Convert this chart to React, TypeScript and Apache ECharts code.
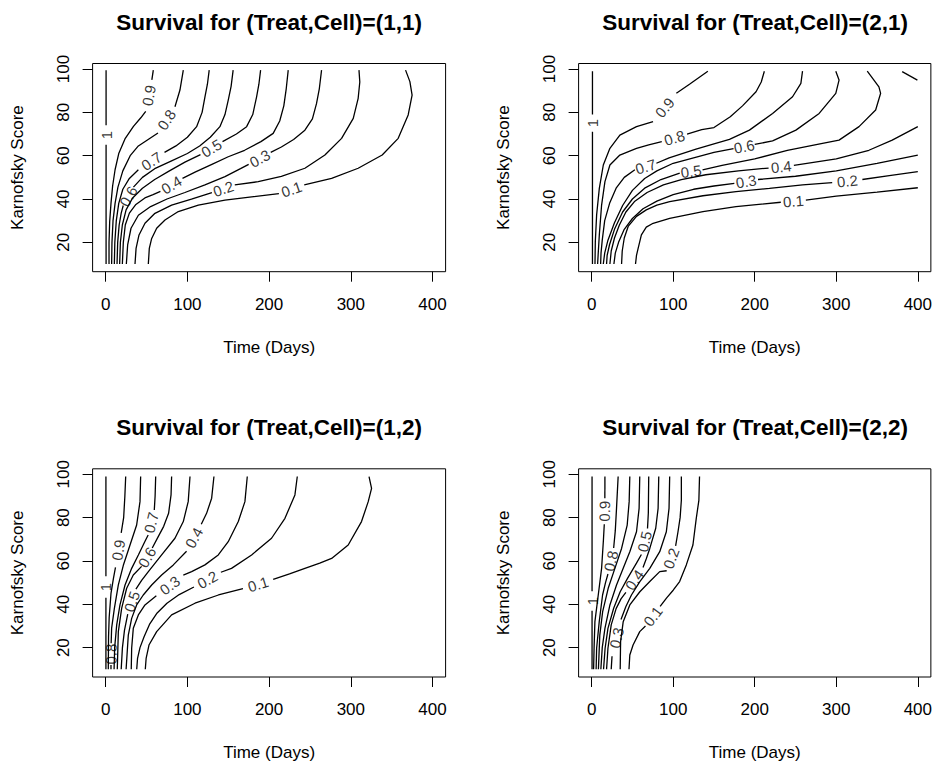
import React, { useEffect, useRef } from "react";
import * as echarts from "echarts";

type Pt = [number, number] | null;

const LEVELS = ["1", "0.9", "0.8", "0.7", "0.6", "0.5", "0.4", "0.3", "0.2", "0.1"];
const TITLES = [
  "Survival for (Treat,Cell)=(1,1)",
  "Survival for (Treat,Cell)=(2,1)",
  "Survival for (Treat,Cell)=(1,2)",
  "Survival for (Treat,Cell)=(2,2)",
];
const X_TICKS = [0, 100, 200, 300, 400];
const Y_TICKS = [20, 40, 60, 80, 100];
const X_NAME = "Time (Days)";
const Y_NAME = "Karnofsky Score";

// contour lines (time, karnofsky); null marks the gap where the level label sits
const surv11: Pt[][] = [
  [[0.5, 10], [0.5, 65], null, [0.5, 74], [0.5, 99.5]],
  [[4.1, 10], [4.1, 20], [4.9, 29.5], [6.5, 38], [8.5, 46], [11.5, 53.5], [16, 61], [24, 68], [34, 73.5], [43, 77.5], [49, 80.5], null, [56.5, 95], [58.3, 99.5]],
  [[7.3, 10], [7.7, 20], [9, 30], [11.5, 38], [15, 45.5], [21, 53], [30, 60], [40, 64.5], [52, 67.5], [64, 70.5], null, [84.8, 82.6], [90.9, 90.3], [95, 99.5]],
  [[10.6, 10], [11.2, 20], [13, 30], [16, 38], [21, 44.5], [29, 49.5], [40, 53.5], null, [72, 61.5], [86, 64.5], [100, 68.5], [111.3, 73.4], [118, 80], [121.5, 87.2], [124.5, 93], [126.7, 99.5]],
  [[13.9, 10], [14.7, 20], [16.5, 28], [19, 33.5], [21.5, 37], null, [34, 45.5], [45, 50], [60, 54], [80, 57.5], [100, 61], [115, 64.5], [128, 68.5], [139.8, 73.4], [146, 79], [150, 85.7], [153.5, 92], [156, 99.5]],
  [[17.1, 10], [18, 20], [20.4, 28], [25, 35], [33, 40.5], [45, 45], [60, 49], [78, 53], [97, 57], [116, 60.5], null, [143, 66.5], [160, 70], [172.5, 73.4], [180, 79], [184.7, 87.2], [187.5, 93], [189.6, 99.5]],
  [[20.4, 10], [21.6, 20], [24, 28], [29, 33.5], [37, 37.5], [48, 40.5], [58, 42], [67, 43.5], null, [94, 49.5], [110, 52.5], [130, 56], [150, 59.5], [170, 62.5], [190, 66.5], [205, 70.3], [213, 76], [218, 83], [221, 91], [223.4, 99.5]],
  [[25.3, 10], [26.9, 18.8], [31, 26.5], [40, 32.5], [55, 36.5], [75, 40], [97, 43], [121.5, 46.5], [146, 50.3], [165, 54], [175, 56], null, [202, 61.5], [215, 64], [230, 67.5], [243.8, 71.8], [253, 77], [258, 84], [261.5, 91], [264.2, 99.5]],
  [[35.9, 10], [37.2, 17.2], [40.8, 23.4], [48.1, 28.8], [60.3, 33.4], [80.7, 37.2], [105, 40], [130, 43], null, [158, 46.5], [186.7, 48], [215, 50.5], [243.8, 54.2], [268.3, 60.3], [288.7, 68], [303, 77.2], [309, 86.5], [311, 94], [310, 99.5]],
  [[52.2, 10], [53.4, 17.2], [56.3, 21.8], [62.4, 26.5], [72.6, 30.3], [88.9, 34.2], [113.4, 37.2], [146, 39.5], [178.6, 41], [212, 42.5], null, [243, 46.5], [276.5, 49.5], [309, 54.2], [338.4, 60.3], [358, 68], [370.2, 78.8], [375, 88], [372.3, 94.2], [367, 99.5]],
];

const surv21: Pt[][] = [
  [[1, 10], [1, 71], null, [1, 79], [1, 99]],
  [[4.1, 10], [4.5, 20.3], [6.1, 32.6], [9.4, 44.9], [14.3, 55.7], [22.4, 63.4], [34.6, 69.5], [55, 73.4], [75.3, 75.7], null, [103.9, 88.8], [120, 93], [142.5, 99]],
  [[7.3, 10], [9.4, 23.4], [12.2, 37.2], [16.3, 48], [22.4, 55.7], [34.6, 60.3], [55, 63.4], [70, 65], [86, 66.5], null, [117, 70], [135, 72], [150, 73], [170, 78], [185, 83], [201.6, 89.5], [208, 94], [211.8, 99]],
  [[11, 10], [11.5, 15], [13, 21], [16, 30], [22, 38], [30, 45], [40, 50], [53, 53.5], null, [79.4, 56.5], [95, 59], [128, 63], [150, 65.5], [169, 67.5], [193.5, 71.8], [221.9, 79.5], [246.4, 87.2], [256.6, 93.4], [258.6, 99]],
  [[14.3, 10], [16, 15], [20, 21], [28, 29], [38, 37], [50, 44], [65, 49.5], [80, 53], [100, 56.5], [125, 59], [150, 61.5], [174, 63.3], null, [200, 65.2], [221.9, 66.8], [250.5, 71.8], [279, 79.5], [299.4, 88.8], [303.4, 94.9], [299.4, 99]],
  [[18.3, 10], [19, 14], [22, 19], [28, 26], [38, 34], [50, 40], [65, 45], [85, 49], [108, 52], null, [136, 53.5], [160, 55.5], [200, 58.5], [240, 62.5], [280, 65.5], [303.4, 67.2], [327.9, 73.4], [348.3, 81.1], [354.4, 88.8], [352.3, 91.8], [338, 99], null, [380.8, 98.8], [399.5, 94.9]],
  [[22.4, 10], [24, 16], [28, 22], [34, 28], [42, 34], [53, 39], [68, 43], [88, 46.5], [110, 49], [140, 51.2], [180, 53], [217, 54.3], null, [248, 55.5], [300, 58.5], [340, 62.5], [368.6, 67.2], [400, 73.4]],
  [[27.3, 10], [29, 15], [33, 20], [40, 26], [50, 31], [63, 35.5], [80, 39], [100, 42], [125, 44.5], [150, 46], [175, 47.2], null, [204, 49], [250, 50.5], [300, 53], [350, 56.5], [400, 60.3]],
  [[36.7, 10], [37.5, 16], [40, 22], [45, 27.5], [55, 32], [67, 35], [80, 37.2], [95.7, 38.8], [136.5, 41.5], [177, 43.4], [218, 44.9], [258.7, 46.5], [295, 47.6], null, [332, 49], [365, 50.8], [400, 52.6]],
  [[53.8, 10], [55, 14], [57, 17.2], [61, 23.4], [67, 27], [75.4, 28.8], [95.7, 31.1], [136.5, 34.2], [177, 36.5], [232, 38.5], null, [262.7, 39.5], [300, 41.3], [350, 43.2], [400, 45.2]],
];

const surv12: Pt[][] = [
  [[0.3, 10], [0.3, 43], null, [0.3, 53], [0.3, 99]],
  [[3.2, 10], [3.5, 25], [4.3, 34], [6.5, 45], [9.5, 52], [12, 57], null, [19, 73], [22, 80], [23.5, 90], [24.5, 99]],
  [[6.5, 10], [6.5, 12], null, [6.7, 22], [7.3, 29], [10.6, 38], [15.5, 49], [21.6, 58], [29.8, 67.4], [37.9, 76.6], [42, 87.4], [42.8, 99]],
  [[10.3, 10], [11, 20], [13.5, 30.5], [17.5, 39.7], [23.7, 48.9], [31.8, 56.6], [40, 62.8], [48, 69], [52, 72], null, [59.5, 83.5], [60.5, 90], [61.2, 99]],
  [[14.2, 10], [15.5, 27.4], [19.6, 38.2], [25.7, 47.4], [33.8, 53.5], [44, 57.5], null, [57, 66], [64, 71], [71, 76], [77, 82], [80, 90.5], [80.7, 99]],
  [[19, 10], [20.5, 20], [23, 28], [27, 35.5], null, [37, 47], [44, 51], [52, 55], [68.5, 62.8], [84.8, 70.5], [95, 78.2], [101, 87.4], [103.2, 99]],
  [[25, 10], [27.7, 25.8], [31.8, 33.5], [37.9, 39.7], [46, 44.3], [56.3, 48.9], [68.5, 53.5], [82.8, 58.2], [99, 64.5], null, [117, 77], [123.5, 82], [129.7, 89], [132.5, 99]],
  [[31.3, 10], [31.8, 19.7], [33.8, 28.9], [40, 35.1], [48.1, 39.7], [62, 44], null, [95, 53.5], [105.2, 55.1], [121.5, 58.2], [137.8, 62.8], [150, 68.9], [162.3, 78.2], [170.4, 87.4], [173.3, 99]],
  [[38, 10], [39, 15], [42, 20], [47, 25], [54, 31], [63, 36], [75, 40.5], [90, 44.5], [108, 48], null, [141, 54.8], [154, 56.6], [178.6, 62.8], [203, 70.5], [219.4, 79.7], [231.6, 90.5], [234.5, 99]],
  [[48.5, 10], [49.5, 15], [53, 21.2], [62.4, 27.4], [80.7, 35.1], [109.3, 40.5], [138, 44.3], [168, 47.2], null, [205, 51.5], [225, 54], [243.8, 56.6], [262, 59], [276.5, 61.2], [296.8, 67.4], [313.1, 78.2], [321.3, 87.4], [325.4, 93.5], [322.3, 99]],
];

const surv22: Pt[][] = [
  [[0.5, 10], [0.5, 37], null, [0.5, 46], [0.5, 99]],
  [[2.4, 10], [3, 20], [4, 32], [8.1, 44.3], [12.2, 56.6], [14.5, 70], [15.5, 77], null, [16.2, 89], [16.3, 99]],
  [[5.5, 10], [6.1, 19.7], [9.3, 32], [13.4, 44.3], [17, 50], [20, 54], null, [27, 66], [29, 74], [30.5, 84.3], [32.5, 99]],
  [[8.3, 10], [10, 25.8], [13.5, 36.6], [20.3, 47.4], [28.5, 56.6], [36.7, 65.8], [43.6, 76.6], [46, 87.4], [46.8, 99]],
  [[11.3, 10], [13, 20], [16.3, 28.9], [22.4, 39.7], [30.5, 48.9], [38.7, 56.6], [46.8, 64.3], [55, 73.5], [58.2, 84.3], [59, 99]],
  [[14.6, 10], [16.5, 19.7], [20, 28.9], [27, 38.2], [35, 45.8], [44, 52], [55, 59], [61, 63], null, [68.5, 75], [69.5, 82], [70, 99]],
  [[18.3, 10], [20, 19.7], [24, 30.5], [30, 38], [36, 42.5], [42, 45.5], null, [63, 57], [67, 61], [71.3, 65.8], [78.6, 75.1], [81.5, 84.3], [82.3, 99]],
  [[24, 10], [25, 16], null, [36, 33], [42, 39], [48.8, 44.3], [59.1, 50.5], [71.3, 56.6], [83.5, 64.3], [91.6, 73.5], [94.9, 84.3], [95.7, 99]],
  [[35, 10], [35.5, 22.8], [38.7, 32], [46.8, 39.7], [59.1, 45.8], [71.3, 50.5], [83.5, 55.1], [92, 55.5], null, [103, 67], [105.9, 73.5], [108.5, 80], [110, 88], [110, 99]],
  [[45.8, 10], [46.8, 16.6], [50.8, 21.2], [59, 27.4], [66, 30], null, [84, 39], [92, 43], [100, 46.5], [107.9, 50.5], [116.1, 58.2], [124.2, 67.4], [128.3, 79.7], [131.5, 88], [132.3, 99]],
];

const PANELS = [surv11, surv21, surv12, surv22];

// layout (pixels)
const GRID_POS = [
  { left: 92.6, top: 63.5 },
  { left: 578.6, top: 63.5 },
  { left: 92.6, top: 468.8 },
  { left: 578.6, top: 468.8 },
];
const GRID_W = 353;
const GRID_H = 208.2;
const X_MIN = -16;
const X_MAX = 416;
const Y_MIN = 6.44;
const Y_MAX = 102.56;
const FONT = "'Liberation Sans', Arial, Helvetica, sans-serif";
const INK = "#000";

function buildOption() {
  const sx = GRID_W / (X_MAX - X_MIN);
  const sy = GRID_H / (Y_MAX - Y_MIN);
  const grid: any[] = [];
  const xAxis: any[] = [];
  const yAxis: any[] = [];
  const title: any[] = [];
  const series: any[] = [];

  PANELS.forEach((contours, p) => {
    const g = GRID_POS[p];
    grid.push({
      left: g.left,
      top: g.top,
      width: GRID_W,
      height: GRID_H,
      show: true,
      borderColor: "#000",
      borderWidth: 1,
      backgroundColor: "transparent",
    });
    xAxis.push({
      type: "value",
      gridIndex: p,
      position: "bottom",
      min: X_MIN,
      max: X_MAX,
      axisLine: { show: false, onZero: false },
      splitLine: { show: false },
      axisTick: { show: true, inside: false, length: 10, customValues: X_TICKS, lineStyle: { color: "#000", width: 1 } },
      axisLabel: { customValues: X_TICKS, fontSize: 17, color: INK, margin: 24, fontFamily: FONT },
      name: X_NAME,
      nameLocation: "middle",
      nameGap: 67,
      nameTextStyle: { fontSize: 17, color: INK, fontFamily: FONT },
    });
    yAxis.push({
      type: "value",
      gridIndex: p,
      position: "left",
      min: Y_MIN,
      max: Y_MAX,
      axisLine: { show: false, onZero: false },
      splitLine: { show: false },
      axisTick: { show: true, inside: false, length: 10, customValues: Y_TICKS, lineStyle: { color: "#000", width: 1 } },
      axisLabel: { customValues: Y_TICKS, rotate: 90, fontSize: 17, color: INK, margin: 21, fontFamily: FONT },
      name: Y_NAME,
      nameLocation: "middle",
      nameGap: 67,
      nameRotate: 90,
      nameTextStyle: { fontSize: 17, color: INK, fontFamily: FONT },
    });
    title.push({
      text: TITLES[p],
      left: g.left + GRID_W / 2,
      top: g.top - 53,
      padding: 0,
      textAlign: "center",
      textStyle: { fontSize: 22.5, fontWeight: "bold", color: INK, fontFamily: FONT },
    });

    const labels: any[] = [];
    contours.forEach((pts, li) => {
      let seg: number[][] = [];
      const segs: number[][][] = [];
      let labelDone = false;
      pts.forEach((pt, k) => {
        if (pt === null) {
          segs.push(seg);
          seg = [];
          if (!labelDone) {
            const a = pts[k - 1] as [number, number];
            const b = pts[k + 1] as [number, number];
            let ang = (Math.atan2((b[1] - a[1]) * sy, (b[0] - a[0]) * sx) * 180) / Math.PI;
            if (ang > 90) ang -= 180;
            if (ang < -90) ang += 180;
            labels.push({
              value: [(a[0] + b[0]) / 2, (a[1] + b[1]) / 2],
              label: { formatter: LEVELS[li], rotate: ang },
            });
            labelDone = true;
          }
        } else {
          seg.push(pt);
        }
      });
      segs.push(seg);
      segs.forEach((s) => {
        if (s.length < 2) return;
        series.push({
          type: "line",
          xAxisIndex: p,
          yAxisIndex: p,
          data: s,
          showSymbol: false,
          symbol: "none",
          smooth: false,
          silent: true,
          lineStyle: { color: "#000", width: 1.3 },
        });
      });
    });
    series.push({
      type: "scatter",
      xAxisIndex: p,
      yAxisIndex: p,
      symbolSize: 1,
      itemStyle: { color: "#fff" },
      silent: true,
      label: {
        show: true,
        position: "inside",
        fontSize: 15,
        color: INK,
        textBorderWidth: 0,
        fontFamily: FONT,
      },
      data: labels,
    });
  });

  return {
    animation: false,
    backgroundColor: "#fff",
    title,
    grid,
    xAxis,
    yAxis,
    series,
  };
}

export default function App() {
  const ref = useRef<HTMLDivElement>(null);
  useEffect(() => {
    if (!ref.current) return;
    const chart = echarts.init(ref.current, undefined, { renderer: "svg" });
    chart.setOption(buildOption() as any);
    return () => chart.dispose();
  }, []);
  return (
    <div
      ref={ref}
      style={{ position: "absolute", left: 0, top: 0, width: 935, height: 762, background: "#fff" }}
    />
  );
}
